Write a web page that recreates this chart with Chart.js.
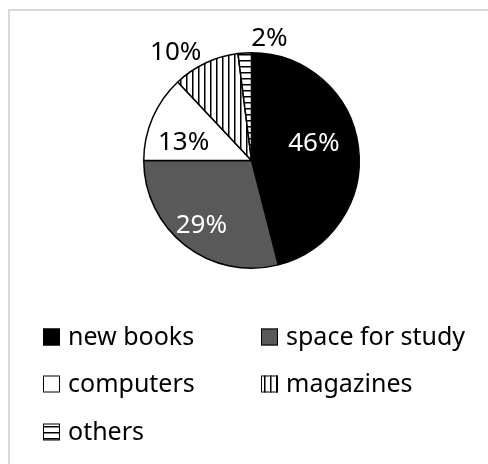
<!DOCTYPE html>
<html lang="en">
  <head>
    <meta charset="UTF-8" />
    <title>Library survey pie</title>
    <style>
      body { margin: 0; background: #fff; }
    </style>
  </head>
  <body>
    <canvas id="myChart" width="488" height="464"></canvas>
  </body>
  <script src="https://cdn.jsdelivr.net/npm/chart.js"></script>
  <script>
    var labels = ["new books", "space for study", "computers", "magazines", "others"];
    var values = [46, 29, 13, 10, 2];
    // label placement around each slice: [radius factor, angle shift in degrees]
    var labelPlace = [[0.6, -8], [0.76, 0], [0.65, -9], [1.22, -10], [1.14, 12]];
    var labelColors = ["#fff", "#fff", "#000", "#000", "#000"];

    function stripes(vertical) {
      var c = document.createElement("canvas");
      c.width = 6;
      c.height = 6;
      var g = c.getContext("2d");
      g.fillStyle = "#fff";
      g.fillRect(0, 0, 6, 6);
      g.fillStyle = "#000";
      if (vertical) g.fillRect(0, 0, 1.5, 6);
      else g.fillRect(0, 0, 6, 1.5);
      return g.createPattern(c, "repeat");
    }

    var ctx0 = document.getElementById("myChart").getContext("2d");
    var fills = ["#000000", "#595959", "#ffffff", stripes(true), stripes(false)];

    var font = '"Noto Sans", sans-serif';

    var extras = {
      id: "extras",
      beforeDraw: function (chart) {
        var c = chart.ctx;
        c.save();
        c.strokeStyle = "#d9d9d9";
        c.lineWidth = 2;
        c.strokeRect(9, 10, 600, 600);
        c.restore();
      },
      afterDatasetsDraw: function (chart) {
        var c = chart.ctx;
        var meta = chart.getDatasetMeta(0);
        c.save();
        c.font = "26px " + font;
        c.textAlign = "center";
        c.textBaseline = "middle";
        meta.data.forEach(function (arc, i) {
          var p = arc.getProps(["x", "y", "startAngle", "endAngle", "outerRadius"], true);
          var a = (p.startAngle + p.endAngle) / 2 + (labelPlace[i][1] * Math.PI) / 180;
          var r = p.outerRadius * labelPlace[i][0];
          c.fillStyle = labelColors[i];
          c.fillText(values[i] + "%", p.x + r * Math.cos(a), p.y + r * Math.sin(a));
        });

        // legend, two columns
        var colX = [43, 261];
        var rowY = [337, 384, 432];
        c.textAlign = "left";
        c.font = "25px " + font;
        labels.forEach(function (lab, i) {
          var x = colX[i % 2];
          var y = rowY[Math.floor(i / 2)];
          c.fillStyle = fills[i];
          c.fillRect(x, y - 8.5, 17, 17);
          c.strokeStyle = "#000";
          c.lineWidth = 1;
          c.strokeRect(x + 0.5, y - 8, 16, 16);
          c.fillStyle = "#000";
          c.fillText(lab, x + 25, y + 1);
        });
        c.restore();
      },
    };

    var data = {
      labels: labels,
      datasets: [
        {
          data: values,
          backgroundColor: fills,
          borderColor: "#000",
          borderWidth: 1.5,
        },
      ],
    };

    const config = {
      type: "pie",
      data: data,
      options: {
        responsive: false,
        animation: false,
        layout: { padding: { top: 52, bottom: 195, left: 15, right: 0 } },
        plugins: {
          legend: { display: false },
          tooltip: { enabled: false },
        },
      },
      plugins: [extras],
    };

    var myChart = new Chart(ctx0, config);
  </script>
</html>
